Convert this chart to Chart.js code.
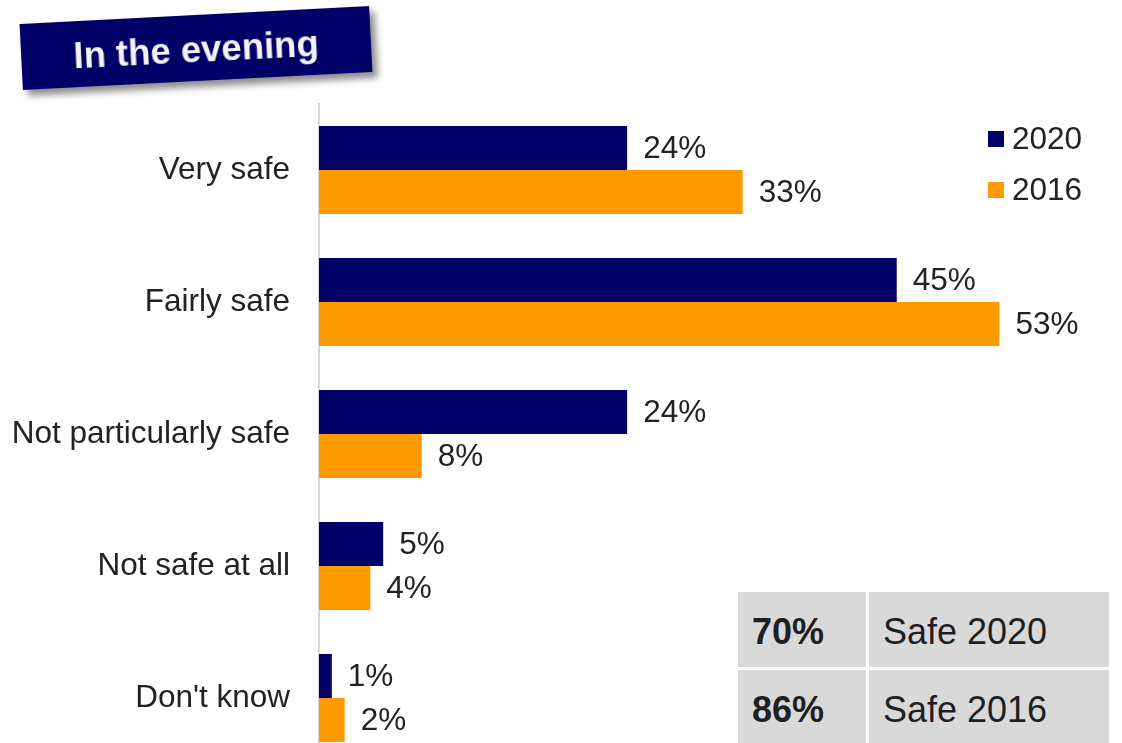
<!DOCTYPE html>
<html>
<head>
<meta charset="utf-8">
<script src="https://cdn.jsdelivr.net/npm/chart.js@4/dist/chart.umd.min.js"></script>
<style>
  html, body { margin: 0; padding: 0; background: #fff; overflow: hidden; width: 1122px; height: 743px; }
  #wrap { position: relative; width: 1122px; height: 743px; overflow: hidden; }
  #c { position: absolute; left: 0; top: 0; width: 1122px; height: 800px; }
  #title {
    position: absolute; left: 21px; top: 15px; width: 350px; height: 66px;
    background: #000066; color: #f2f2f2;
    font: bold 36.5px "Liberation Sans", Arial, sans-serif;
    display: flex; align-items: center; justify-content: center;
    padding-top: 3px; box-sizing: border-box;
    transform: rotate(-2.95deg);
    box-shadow: 5px 6px 7px rgba(0,0,0,0.45);
  }
  .cell { position: absolute; background: #d9d9d9; color: #1f1f1f;
    font: 36px "Liberation Sans", Arial, sans-serif; box-sizing: border-box;
    padding-top: 4px; display: flex; align-items: center; }
  .cell.num { font-weight: bold; padding-left: 14px; }
  .cell.txt { padding-left: 14px; }
</style>
</head>
<body>
<div id="wrap">
  <canvas id="c" width="1122" height="800"></canvas>
  <div id="title">In the evening</div>
  <div id="table"></div>
</div>
<script>
// Answer categories and shares per survey year
const categories = ['Very safe', 'Fairly safe', 'Not particularly safe', 'Not safe at all', "Don't know"];
const seriesNames = ['2020', '2016'];
const values2020 = [24, 45, 24, 5, 1];
const values2016 = [33, 53, 8, 4, 2];
const seriesColors = ['#000066', '#FF9900'];

// Summary of "safe" totals shown in the box below the legend
const safeTotals = ['70%', '86%'];
const safeLabels = ['Safe 2020', 'Safe 2016'];

const FONT = '"Liberation Sans", Arial, sans-serif';
const TEXT = '#222222';

// Summary table
(function buildTable() {
  const t = document.getElementById('table');
  const rows = [{ top: 592, h: 75 }, { top: 670, h: 75 }];
  safeTotals.forEach((v, i) => {
    const a = document.createElement('div');
    a.className = 'cell num';
    a.style.left = '738px'; a.style.top = rows[i].top + 'px';
    a.style.width = '128px'; a.style.height = rows[i].h + 'px';
    a.textContent = v;
    t.appendChild(a);
    const b = document.createElement('div');
    b.className = 'cell txt';
    b.style.left = '869px'; b.style.top = rows[i].top + 'px';
    b.style.width = '240px'; b.style.height = rows[i].h + 'px';
    b.textContent = safeLabels[i];
    t.appendChild(b);
  });
})();

// Value labels at the end of each bar
const valueLabels = {
  id: 'valueLabels',
  afterDatasetsDraw(chart) {
    const ctx = chart.ctx;
    ctx.save();
    ctx.font = '31.5px ' + FONT;
    ctx.fillStyle = TEXT;
    ctx.textAlign = 'left';
    ctx.textBaseline = 'middle';
    chart.data.datasets.forEach((ds, di) => {
      chart.getDatasetMeta(di).data.forEach((bar, i) => {
        ctx.fillText(ds.data[i] + '%', bar.x + 16, bar.y + 1);
      });
    });
    ctx.restore();
  }
};

// Legend stacked in the top-right corner
const cornerLegend = {
  id: 'cornerLegend',
  afterDraw(chart) {
    const ctx = chart.ctx;
    ctx.save();
    ctx.font = '31.5px ' + FONT;
    ctx.textBaseline = 'middle';
    ctx.textAlign = 'left';
    chart.data.datasets.forEach((ds, i) => {
      const y = 139 + i * 51;
      ctx.fillStyle = ds.backgroundColor;
      ctx.fillRect(988, y - 8, 16, 16);
      ctx.fillStyle = TEXT;
      ctx.fillText(ds.label, 1012, y + 1);
    });
    ctx.restore();
  }
};

new Chart(document.getElementById('c'), {
  type: 'bar',
  data: {
    labels: categories,
    datasets: [
      { label: seriesNames[0], data: values2020, backgroundColor: seriesColors[0] },
      { label: seriesNames[1], data: values2016, backgroundColor: seriesColors[1] }
    ]
  },
  options: {
    indexAxis: 'y',
    responsive: false,
    animation: false,
    devicePixelRatio: 1,
    layout: { autoPadding: false, padding: { left: 0, right: 7, top: 104, bottom: 36 } },
    datasets: { bar: { categoryPercentage: 88 / 132, barPercentage: 1 } },
    plugins: { legend: { display: false }, tooltip: { enabled: false } },
    scales: {
      x: { display: false, min: 0, max: 62 },
      y: {
        // gap between labels and axis comes from the (hidden) tick length
        grid: { display: false, drawTicks: true, tickLength: 29 },
        border: { display: true, color: '#d9d9d9', width: 2 },
        ticks: { font: { family: FONT, size: 31.5 }, color: TEXT, padding: 0 },
        afterFit(scale) { scale.width = 319; }
      }
    }
  },
  plugins: [valueLabels, cornerLegend]
});
</script>
</body>
</html>
